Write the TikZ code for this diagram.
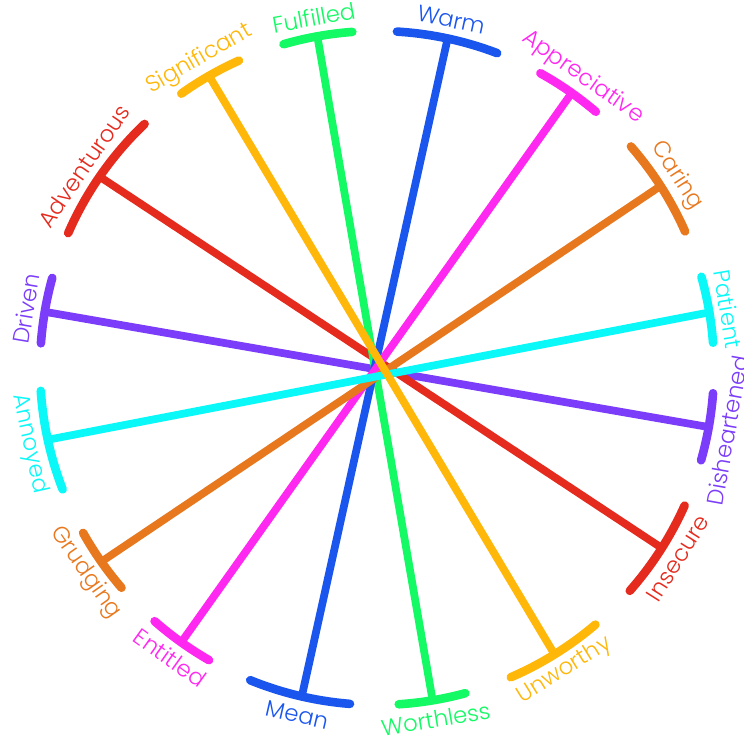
\documentclass[tikz,border=0pt]{standalone}
\usepackage{fontspec}
\setmainfont{Poppins}[UprightFont=* Light]
\usepackage{tikz}
\usetikzlibrary{
    calc % coordinates around the centre
}
\definecolor{wheelblue}{HTML}{1A56EE}
\definecolor{wheelgreen}{HTML}{14FA64}
\definecolor{wheelyellow}{HTML}{FFB70A}
\definecolor{wheelred}{HTML}{E52A1E}
\definecolor{wheelpurple}{HTML}{7B3DFA}
\definecolor{wheelcyan}{HTML}{0AF8F8}
\definecolor{wheelorange}{HTML}{E8781E}
\definecolor{wheelmagenta}{HTML}{FF28F0}
\tikzset{
    spoke/.style={line width=4.4pt, line cap=round},
    tbar/.style={line width=4.9pt, line cap=round},
    feel/.style={font=\fontsize{13}{15}\selectfont, inner sep=0pt},
}

\begin{document}
\begin{tikzpicture}
  % simple knobs
  \def\R{6.74}   % radius of the T bars
  \def\L{7.12}   % radius of the words
  \useasboundingbox (0,0) rectangle (14.88,14.72);
  \coordinate (C) at (7.54,7.36);

  % ===================== ENDS =====================
  % name / spoke angle / bar from / bar to / colour / word
  \foreach \nm/\ang/\bs/\be/\col/\word in {
      warm/77.9/69.1/86.6/wheelblue/Warm,
      fulfilled/100.2/94.2/106.1/wheelgreen/Fulfilled,
      significant/119.9/114.2/125.5/wheelyellow/Significant,
      adventurous/145.4/133.6/156.4/wheelred/Adventurous,
      driven/170.4/164.5/175.8/wheelpurple/Driven,
      annoyed/192.3/183.9/201.1/wheelcyan/Annoyed,
      grudging/215.1/209.3/220.7/wheelorange/Grudging,
      entitled/234.5/228.7/240.1/wheelmagenta/Entitled,
      mean/257.1/247.9/265.4/wheelblue/Mean,
      worthless/279.5/273.7/285.2/wheelgreen/Worthless,
      unworthy/301.8/293.4/310.4/wheelyellow/Unworthy,
      insecure/327.7/318.6/335.9/wheelred/Insecure,
      disheartened/349.9/344.1/355.7/wheelpurple/Disheartened,
      patient/9.5/4.3/15.7/wheelcyan/Patient,
      caring/32.7/23.9/41.1/wheelorange/Caring,
      appreciative/54.7/49.5/61.0/wheelmagenta/Appreciative}{
    \coordinate (\nm) at ($(C)+(\ang:\R)$);
    \draw[tbar, draw=\col] ($(C)+(\bs:\R)$) arc[start angle=\bs, end angle=\be, radius=\R cm];
    % words read outwards on top, inwards below
    \pgfmathsetmacro\rot{\ang<180 ? \ang-90 : \ang+90}
    \node[feel, text=\col, rotate=\rot] (\nm-word) at ($(C)+(\ang:\L)$) {\word};
  }

  % ===================== SPOKES =====================
  \foreach \p/\q/\col in {
      driven/disheartened/wheelpurple,
      adventurous/insecure/wheelred,
      fulfilled/worthless/wheelgreen,
      warm/mean/wheelblue,
      appreciative/entitled/wheelmagenta,
      caring/grudging/wheelorange,
      patient/annoyed/wheelcyan,
      significant/unworthy/wheelyellow}
    \draw[spoke, draw=\col] (\p) -- (\q);
\end{tikzpicture}
\end{document}
